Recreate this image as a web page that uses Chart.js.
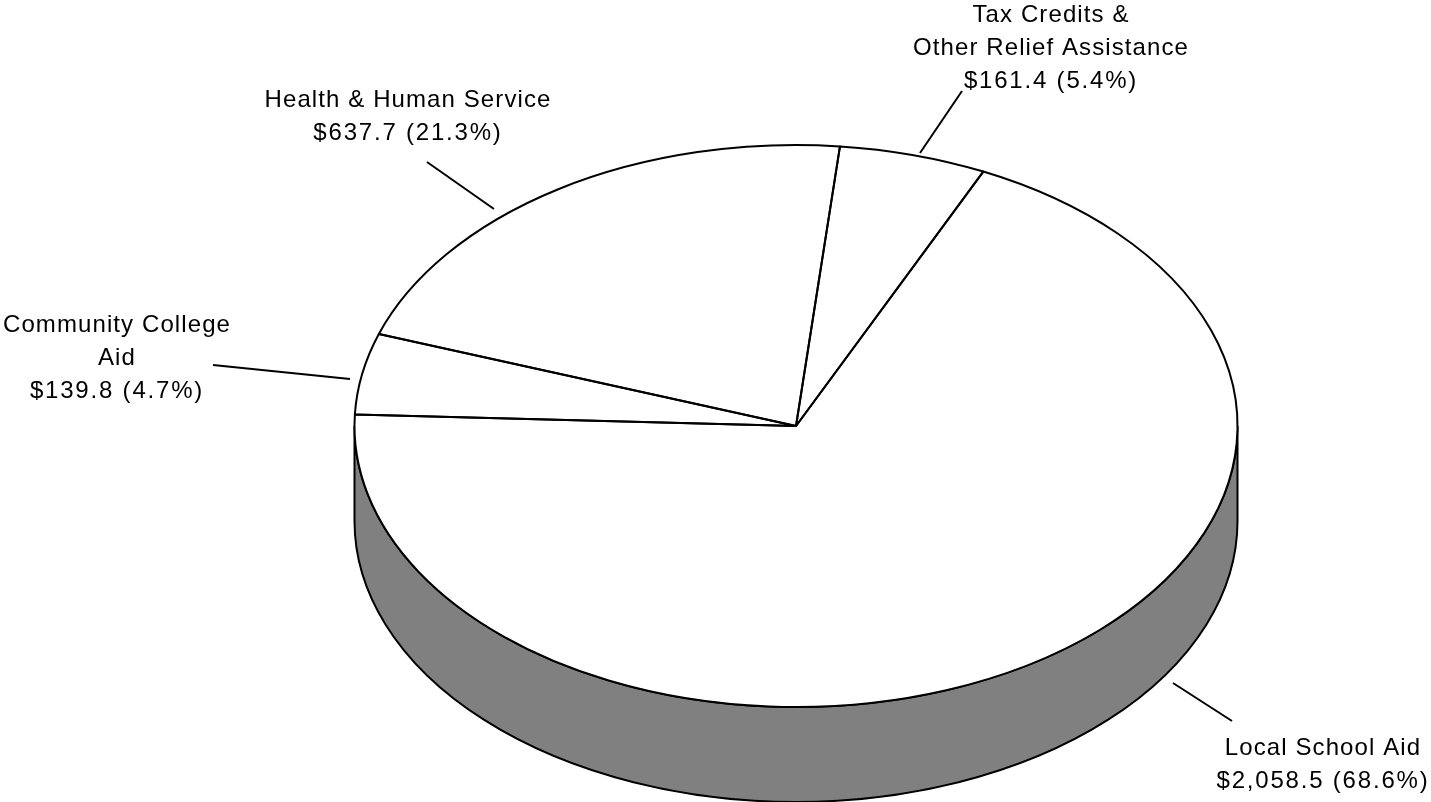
<!DOCTYPE html>
<html lang="en">
<head>
  <meta charset="UTF-8">
  <title>State aid pie</title>
  <script src="https://cdn.jsdelivr.net/npm/chart.js@4/dist/chart.umd.js"></script>
  <style>
    html, body { margin: 0; padding: 0; background: #fff; overflow: hidden; }
    canvas { display: block; }
  </style>
</head>
<body>
<canvas id="chart" width="1431" height="802"></canvas>

<script>
const categories = ['Local School Aid', 'Community College Aid', 'Health & Human Service', 'Tax Credits & Other Relief Assistance'];
const amounts = [2058.5, 139.8, 637.7, 161.4];
const percents = [68.6, 4.7, 21.3, 5.4];
const labelNames = [
  ['Local School Aid'],
  ['Community College', 'Aid'],
  ['Health & Human Service'],
  ['Tax Credits &', 'Other Relief Assistance']
];

// where the text and leader lines sit, one entry per slice
const labelSpots = [
  { x: 1323, y: 755 },
  { x: 117, y: 332 },
  { x: 408, y: 107 },
  { x: 1051, y: 22 }
];
const leaders = [
  [1173, 683, 1232, 721],
  [213, 365, 350, 379],
  [427, 162, 494, 209],
  [920, 153, 962, 91]
];

const pieRx = 441.5;
const pieRy = 281;
const wallDepth = 95;
const lineW = 2;
const lineGap = 33;

function money(v) {
  return '$' + v.toLocaleString('en-US', { minimumFractionDigits: 1 });
}

// squash the round pie into an ellipse, add the side wall, outline and labels
const tiltPie = {
  id: 'tiltPie',
  beforeDatasetsDraw(chart) {
    const ctx = chart.ctx;
    const arc = chart.getDatasetMeta(0).data[0];
    const x = arc.x, y = arc.y;
    ctx.save();
    ctx.beginPath();
    ctx.ellipse(x, y + wallDepth, pieRx, pieRy, 0, 0, Math.PI);
    ctx.ellipse(x, y, pieRx, pieRy, 0, Math.PI, 0, true);
    ctx.closePath();
    ctx.fillStyle = '#808080';
    ctx.fill();
    ctx.strokeStyle = '#000';
    ctx.lineWidth = lineW;
    ctx.stroke();
    ctx.restore();

    ctx.save();
    ctx.translate(x, y);
    ctx.scale(pieRx / arc.outerRadius, pieRy / arc.outerRadius);
    ctx.translate(-x, -y);
  },
  afterDatasetsDraw(chart) {
    const ctx = chart.ctx;
    ctx.restore();

    const arcs = chart.getDatasetMeta(0).data;
    const x = arcs[0].x, y = arcs[0].y;
    ctx.save();
    ctx.strokeStyle = '#000';
    ctx.lineWidth = lineW;
    ctx.lineJoin = 'round';
    arcs.forEach(a => {
      ctx.beginPath();
      ctx.moveTo(x, y);
      ctx.ellipse(x, y, pieRx, pieRy, 0, a.startAngle, a.endAngle);
      ctx.closePath();
      ctx.stroke();
    });

    leaders.forEach(l => {
      ctx.beginPath();
      ctx.moveTo(l[0], l[1]);
      ctx.lineTo(l[2], l[3]);
      ctx.stroke();
    });

    ctx.fillStyle = '#000';
    ctx.font = '24px "Liberation Sans"';
    ctx.textAlign = 'center';
    ctx.textBaseline = 'alphabetic';
    categories.forEach((c, i) => {
      const spot = labelSpots[i];
      ctx.letterSpacing = '1.1px';
      labelNames[i].forEach((t, j) => {
        ctx.fillText(t, spot.x, spot.y + j * lineGap);
      });
      // the number line runs a bit wider in the original
      ctx.letterSpacing = '1.8px';
      const valueText = money(amounts[i]) + ' (' + percents[i].toFixed(1) + '%)';
      ctx.fillText(valueText, spot.x, spot.y + labelNames[i].length * lineGap);
    });
    ctx.restore();
  }
};

new Chart(document.getElementById('chart').getContext('2d'), {
  type: 'pie',
  data: {
    labels: categories,
    datasets: [{
      data: amounts,
      backgroundColor: '#fff',
      borderWidth: 0,
      clip: false
    }]
  },
  options: {
    responsive: false,
    animation: false,
    rotation: 25.1,
    events: [],
    layout: { padding: { left: 161, top: 50 } },
    plugins: { legend: { display: false }, tooltip: { enabled: false } }
  },
  plugins: [tiltPie]
});
</script>
</body>
</html>
